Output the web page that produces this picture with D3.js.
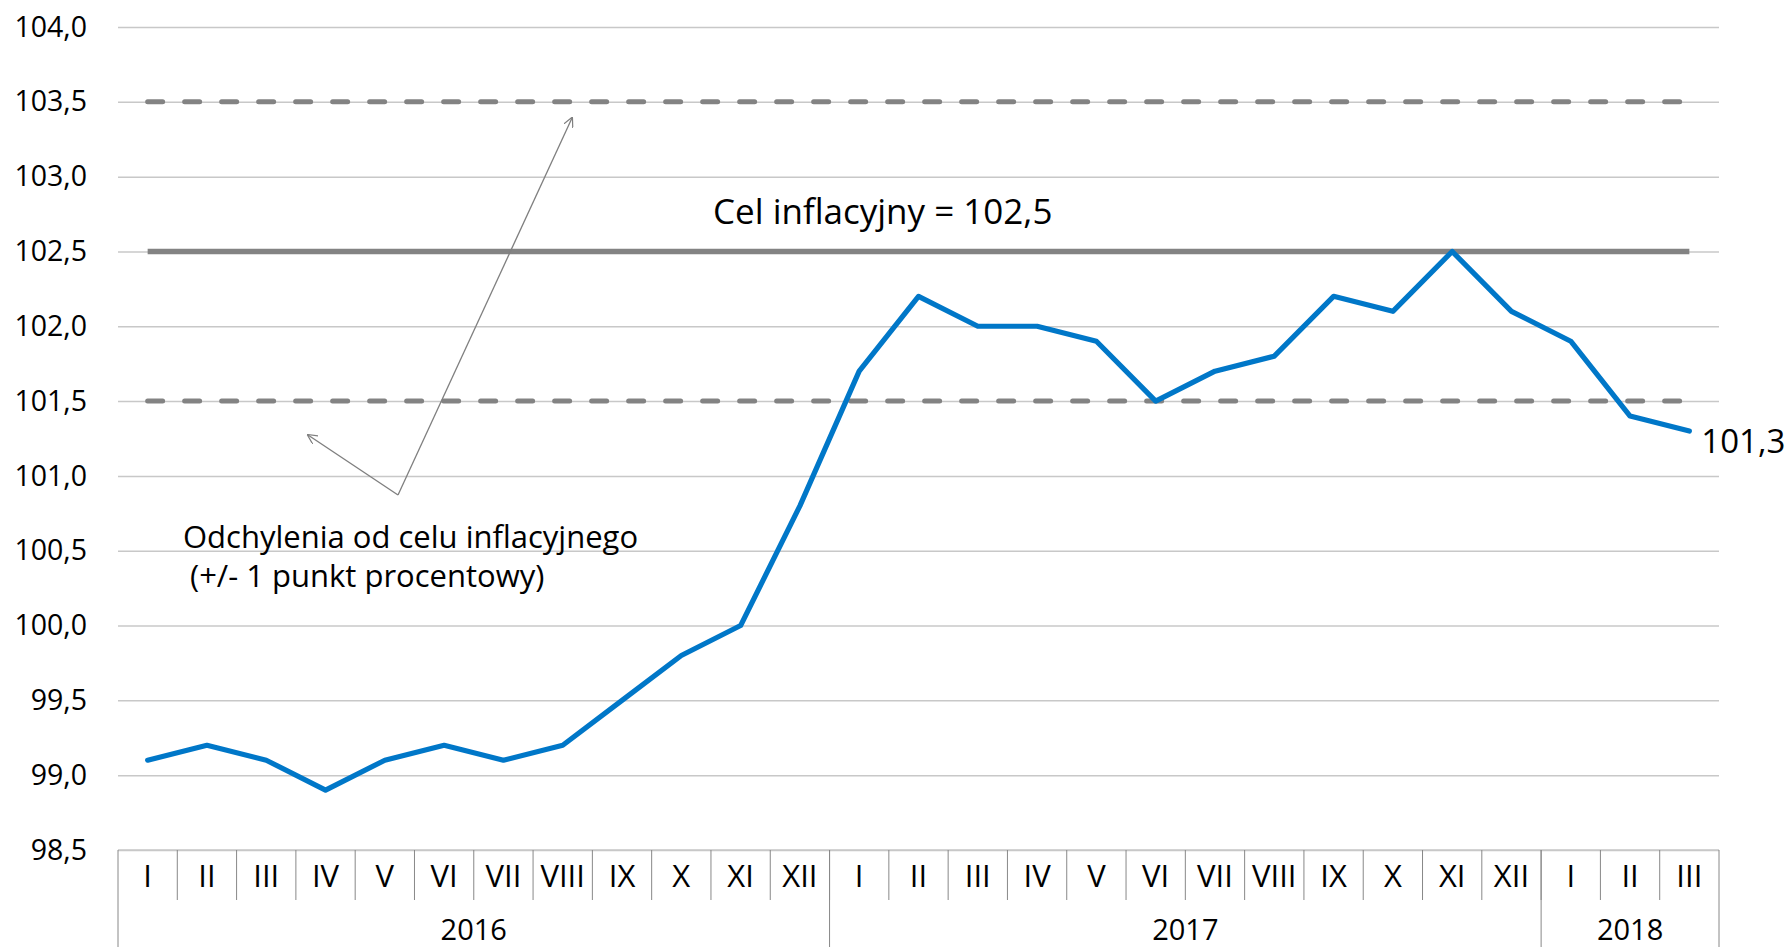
<!DOCTYPE html>
<html>
<head>
<meta charset="utf-8">
<script src="https://cdn.jsdelivr.net/npm/d3@7"></script>
<style>
  body { margin: 0; background: #fff; }
  svg { display: block; font-family: "Open Sans", sans-serif; }
</style>
</head>
<body>
<div id="chart-area"></div>
<script>
var years  = ["2016", "2017", "2018"];
var months = ["I", "II", "III", "IV", "V", "VI", "VII", "VIII", "IX", "X", "XI", "XII"];
var monthsPerYear = [12, 12, 3];

var cpi2016 = [99.1, 99.2, 99.1, 98.9, 99.1, 99.2, 99.1, 99.2, 99.5, 99.8, 100.0, 100.8];
var cpi2017 = [101.7, 102.2, 102.0, 102.0, 101.9, 101.5, 101.7, 101.8, 102.2, 102.1, 102.5, 102.1];
var cpi2018 = [101.9, 101.4, 101.3];

var target = 102.5;
var bandLow = 101.5;
var bandHigh = 103.5;
var yTicks = [98.5, 99.0, 99.5, 100.0, 100.5, 101.0, 101.5, 102.0, 102.5, 103.0, 103.5, 104.0];

var margin = { top: 27, bottom: 97, left: 118, right: 68 };
var width  = 1787 - margin.left - margin.right;
var height = 947 - margin.top - margin.bottom;

// flatten into one record per month
var data = [];
[cpi2016, cpi2017, cpi2018].forEach(function(vals, yi) {
    vals.forEach(function(v, mi) {
        data.push({ key: years[yi] + "-" + mi, year: years[yi], month: months[mi], value: v });
    });
});

var svg = d3.select("#chart-area")
    .append("svg")
        .attr("width", 1787)
        .attr("height", 947);

var g = svg.append("g")
    .attr("transform", "translate(" + margin.left + ", " + margin.top + ")");

var x = d3.scaleBand()
    .domain(data.map(function(d) { return d.key; }))
    .range([0, width]);

var y = d3.scaleLinear()
    .domain([98.5, 104.0])
    .range([height, 0]);

var cx = function(d) { return x(d.key) + x.bandwidth() / 2; };

// gridlines + y labels
var yAxisCall = d3.axisLeft(y)
    .tickValues(yTicks)
    .tickSize(-width)
    .tickPadding(31)
    .tickFormat(function(d) { return d3.format(".1f")(d).replace(".", ","); });

var yAxis = g.append("g")
    .attr("class", "y-axis")
    .call(yAxisCall);
yAxis.select(".domain").remove();
yAxis.selectAll(".tick line")
    .attr("stroke", "#c8c8c8")
    .attr("stroke-width", 1.5);
yAxis.selectAll(".tick text")
    .attr("font-size", "28.5px")
    .attr("fill", "#000")
    .attr("font-family", "Open Sans, sans-serif");

// category axis: months row and years row
var cat = g.append("g")
    .attr("class", "x-axis")
    .attr("transform", "translate(0, " + height + ")");

cat.append("line")
    .attr("x1", 0).attr("x2", width)
    .attr("stroke", "#c8c8c8").attr("stroke-width", 1.5);

cat.selectAll(".m-sep")
    .data(data.slice(1))
    .enter()
    .append("line")
        .attr("class", "m-sep")
        .attr("x1", function(d) { return x(d.key); })
        .attr("x2", function(d) { return x(d.key); })
        .attr("y1", 0)
        .attr("y2", 50)
        .attr("stroke", "#888")
        .attr("stroke-width", 1);

cat.selectAll(".m-label")
    .data(data)
    .enter()
    .append("text")
        .attr("class", "m-label")
        .attr("x", cx)
        .attr("y", 37)
        .attr("text-anchor", "middle")
        .attr("font-size", "31px")
        .text(function(d) { return d.month; });

var yearStarts = [];
var acc = 0;
years.forEach(function(yr, i) {
    yearStarts.push({ year: yr, from: acc, to: acc + monthsPerYear[i] });
    acc += monthsPerYear[i];
});
var edge = function(i) { return i < data.length ? x(data[i].key) : width; };

cat.selectAll(".y-sep")
    .data([0].concat(yearStarts.map(function(d) { return d.to; })))
    .enter()
    .append("line")
        .attr("class", "y-sep")
        .attr("x1", function(i) { return edge(i); })
        .attr("x2", function(i) { return edge(i); })
        .attr("y1", 0)
        .attr("y2", 97)
        .attr("stroke", "#888")
        .attr("stroke-width", 1);

cat.selectAll(".y-label")
    .data(yearStarts)
    .enter()
    .append("text")
        .attr("class", "y-label")
        .attr("x", function(d) { return (edge(d.from) + edge(d.to)) / 2; })
        .attr("y", 90)
        .attr("text-anchor", "middle")
        .attr("font-size", "29px")
        .text(function(d) { return d.year; });

// target and tolerance band lines
var flat = function(v) {
    return d3.line()
        .x(cx)
        .y(function() { return y(v); });
};

[bandLow, bandHigh].forEach(function(v) {
    g.append("path")
        .datum(data)
        .attr("d", flat(v))
        .attr("fill", "none")
        .attr("stroke", "#838383")
        .attr("stroke-width", 5)
        .attr("stroke-linecap", "round")
        .attr("stroke-dasharray", "15 22");
});

g.append("path")
    .datum(data)
    .attr("d", flat(target))
    .attr("fill", "none")
    .attr("stroke", "#838383")
    .attr("stroke-width", 5.5);

// CPI line
var line = d3.line()
    .x(cx)
    .y(function(d) { return y(d.value); });

g.append("path")
    .datum(data)
    .attr("d", line)
    .attr("fill", "none")
    .attr("stroke", "#0077c8")
    .attr("stroke-width", 5.2)
    .attr("stroke-linejoin", "round")
    .attr("stroke-linecap", "round");

var last = data[data.length - 1];
g.append("text")
    .attr("x", cx(last) + 12)
    .attr("y", y(last.value) + 22)
    .attr("font-size", "33px")
    .text(d3.format(".1f")(last.value).replace(".", ","));

// annotations
g.append("text")
    .attr("x", 713 - margin.left)
    .attr("y", 224 - margin.top)
    .attr("font-size", "35px")
    .text("Cel inflacyjny = 102,5");

svg.append("defs").append("marker")
    .attr("id", "arrow")
    .attr("viewBox", "0 0 10 10")
    .attr("refX", 9).attr("refY", 5)
    .attr("markerWidth", 10).attr("markerHeight", 10)
    .attr("markerUnits", "userSpaceOnUse")
    .attr("orient", "auto")
    .append("path")
        .attr("d", "M0,0 L10,5 L0,10")
        .attr("fill", "none")
        .attr("stroke", "#7f7f7f")
        .attr("stroke-width", 1.2);

var vertex = [398 - margin.left, 495 - margin.top];
var tips = [[308 - margin.left, 435 - margin.top], [572 - margin.left, 118 - margin.top]];
tips.forEach(function(t) {
    g.append("line")
        .attr("x1", vertex[0]).attr("y1", vertex[1])
        .attr("x2", t[0]).attr("y2", t[1])
        .attr("stroke", "#7f7f7f")
        .attr("stroke-width", 1.3)
        .attr("marker-end", "url(#arrow)");
});

var note = g.append("text")
    .attr("font-size", "31px");
note.append("tspan")
    .attr("x", 183 - margin.left)
    .attr("y", 548 - margin.top)
    .text("Odchylenia od celu inflacyjnego");
note.append("tspan")
    .attr("x", 190 - margin.left)
    .attr("y", 587 - margin.top)
    .text("(+/- 1 punkt procentowy)");
</script>
</body>
</html>
